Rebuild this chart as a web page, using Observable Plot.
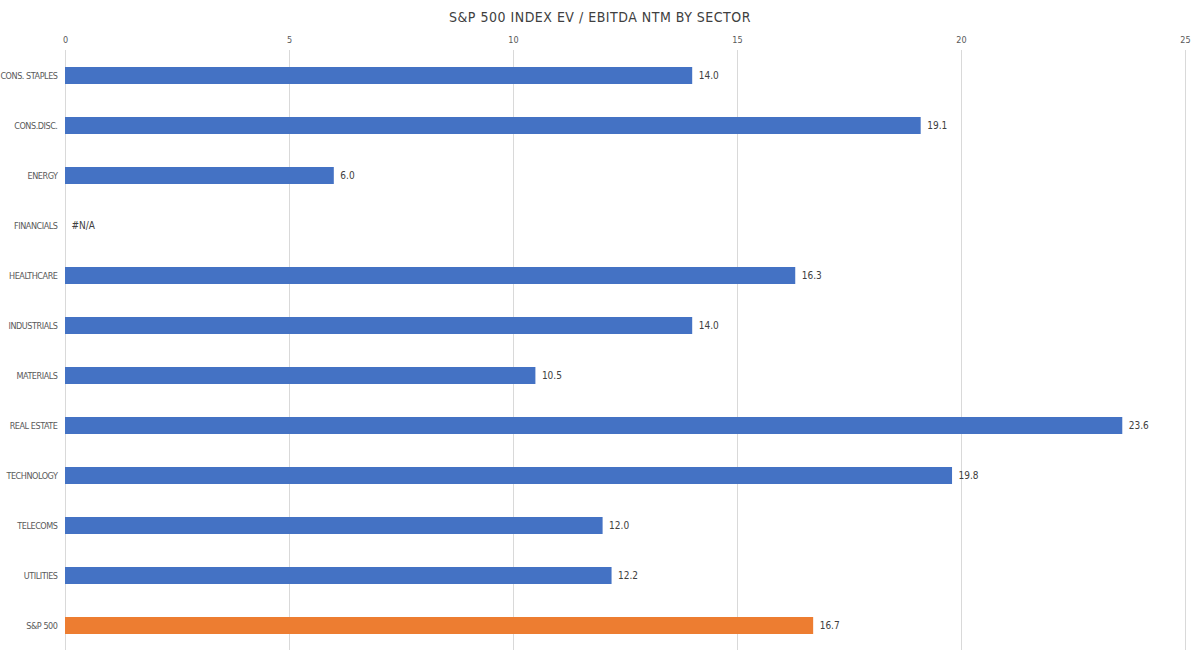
<!DOCTYPE html>
<html><head><meta charset="utf-8">
<script src="https://cdn.jsdelivr.net/npm/d3@7"></script>
<script src="https://cdn.jsdelivr.net/npm/@observablehq/plot@0.6"></script>
<style>
body{margin:0;background:#fff;font-family:"DejaVu Sans Condensed","DejaVu Sans",sans-serif;font-stretch:condensed;}
#title{height:30px;line-height:34px;text-align:center;font-size:14px;color:#404040;letter-spacing:0.5px;}
svg text{font-stretch:condensed;}
g[aria-label="y-axis tick label"] text{letter-spacing:-0.45px;}
</style></head><body>
<div id="title">S&amp;P 500 INDEX EV / EBITDA NTM BY SECTOR</div>
<div id="chart"></div>
<script>
const sectors = ["CONS. STAPLES","CONS.DISC.","ENERGY","FINANCIALS","HEALTHCARE","INDUSTRIALS","MATERIALS","REAL ESTATE","TECHNOLOGY","TELECOMS","UTILITIES","S&P 500"];
const values = [14.0,19.1,6.0,null,16.3,14.0,10.5,23.6,19.8,12.0,12.2,16.7];
const groups = ["sector","sector","sector","sector","sector","sector","sector","sector","sector","sector","sector","index"];
const xTicks = [0,5,10,15,20,25];

const data = sectors.map((s,i)=>({sector:s, value:values[i], group:groups[i], label: values[i]==null ? "#N/A" : values[i].toFixed(1)}));
const bars = data.filter(d=>d.value!=null);

const plot = Plot.plot({
  width:1200, height:630,
  marginLeft:65, marginRight:15, marginTop:20, marginBottom:10,
  style:{fontFamily:'"DejaVu Sans Condensed","DejaVu Sans",sans-serif', fontSize:"9px", color:"#595959"},
  x:{domain:[0,25], ticks:xTicks, axis:"top", tickSize:0, tickPadding:8, label:null, tickFormat:d=>d},
  y:{domain:sectors, paddingInner:0.66, paddingOuter:0.33, label:null, tickSize:0, tickPadding:8},
  color:{domain:["sector","index"], range:["#4472C4","#ED7D31"]},
  marks:[
    Plot.gridX(xTicks,{stroke:"#d9d9d9", strokeOpacity:1}),
    Plot.barX(bars,{x:"value", y:"sector", fill:"group"}),
    Plot.text(data,{x:d=>d.value ?? 0, y:"sector", text:"label", textAnchor:"start", dx:6, fill:"#404040", fontSize:10})
  ]
});
document.getElementById("chart").appendChild(plot);
</script></body></html>
